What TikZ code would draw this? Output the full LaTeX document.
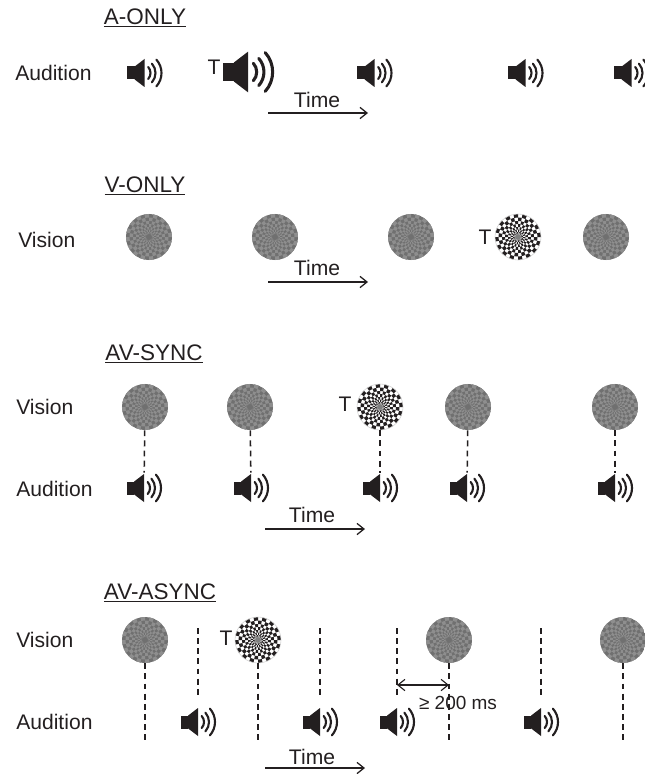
\documentclass[tikz,border=0pt]{standalone}
\usepackage{fontspec}
\setmainfont{Liberation Sans}
\usepackage{tikz}
\usetikzlibrary{arrows.meta}
\definecolor{ink}{RGB}{35,31,32}
\definecolor{dscA}{RGB}{112,112,112}
\definecolor{dscB}{RGB}{142,142,142}

% radial checkerboard inside a disc node: #1 base, #2 cells
\newcommand\radcheck[2]{%
  \begin{scope}[shift={(path picture bounding box.center)}]
    \fill[#1] (0,0) circle[radius=25];
    \foreach \ri/\ro [count=\k] in {3/5,5/7.5,7.5/10,10/13,13/16,16/19.5,19.5/23.5}{
      \pgfmathsetmacro\off{mod(\k,2)*11.25}
      \foreach \a in {0,22.5,...,337.5}
        \fill[#2] (\a+\off:\ri) arc[start angle=\a+\off,delta angle=11.25,radius=\ri]
          -- (\a+\off+11.25:\ro) arc[start angle=\a+\off+11.25,delta angle=-11.25,radius=\ro] -- cycle;
    }
  \end{scope}}
% loudspeaker icon, #1 = size
\newcommand\spkicon[1]{%
  \begin{scope}[shift={(path picture bounding box.center)}]
    \fill[ink] ({-17.5*#1},{-6.5*#1}) rectangle ({-9.8*#1},{6.5*#1});
    \fill[ink] ({-9.8*#1},{-6.5*#1}) -- (0,{-14*#1}) -- (0,{14*#1}) -- ({-9.8*#1},{6.5*#1}) -- cycle;
    \foreach \r in {9,14,20}
      \draw[ink,line width=#1*1.5pt,line cap=round] ({-3*#1},0) ++(-42:{\r*#1}) arc[start angle=-42,end angle=42,radius={\r*#1}];
  \end{scope}}

\tikzset{
  lab/.style={anchor=west,inner sep=0pt},
  title/.style={font=\fontsize{16}{19}\selectfont},
  disc/.style={circle,inner sep=0pt,minimum size=1.15cm,path picture={\radcheck{dscA}{dscB}}},
  target/.style={circle,inner sep=0pt,minimum size=1.15cm,draw=gray!35,line width=0.4pt,
    path picture={\radcheck{white}{ink}\fill[gray] (path picture bounding box.center) circle[radius=3];}},
  speaker/.style={inner sep=0pt,minimum width=#1*1cm,minimum height=#1*0.75cm,path picture={\spkicon{#1}}},
  speaker/.default=1,
  link/.style={ink,line width=1.1pt,dash pattern=on 4.2pt off 3pt},
  timeaxis/.style={ink,line width=0.9pt,->},
}

\begin{document}
\begin{tikzpicture}[x=0.025cm,y=-0.025cm,font=\fontsize{15}{18}\selectfont,text=ink,
  >={Straight Barb[length=5pt,width=8pt]}]
\useasboundingbox (0,0) rectangle (644,774);
% A-ONLY
\node[title] (tA) at (145,18) {\underline{A-ONLY}};
\node[lab] (audA) at (15,73) {Audition};
\node[speaker] (a11) at (144.5,73) {}; \node (tgA) at (214,67) {T};
\node[speaker=1.45] (a12) at (248,72) {};
\node[speaker] (a13) at (374.5,73) {}; \node[speaker] (a14) at (525.5,73) {};
\node[speaker] (a15) at (631.5,73) {};
\node (time1) at (317,100) {Time};
\coordinate (s1) at (268,113); \coordinate (e1) at (368,113); \draw[timeaxis] (s1) -- (e1);
% V-ONLY
\node[title] (tV) at (145,186) {\underline{V-ONLY}};
\node[lab] (visV) at (18,240) {Vision};
\node[disc] (v21) at (149,237) {}; \node[disc] (v22) at (275,237) {};
\node[disc] (v23) at (411,237) {};
\node (tgV) at (485,237) {T}; \node[target] (v24) at (518,237) {};
\node[disc] (v25) at (606,237) {};
\node (time2) at (317,268) {Time};
\coordinate (s2) at (268,282); \coordinate (e2) at (368,282); \draw[timeaxis] (s2) -- (e2);
% AV-SYNC
\node[title] (tS) at (154,354) {\underline{AV-SYNC}};
\node[lab] (visS) at (16,407) {Vision}; \node[lab] (audS) at (16,489) {Audition};
\node[disc] (v31) at (145,407) {}; \node[disc] (v32) at (250,407) {};
\node (tgS) at (345,404) {T}; \node[target] (v33) at (380,407) {};
\node[disc] (v34) at (468,407) {}; \node[disc] (v35) at (615,407) {};
\node[speaker] (a31) at (144,488) {}; \node[speaker] (a32) at (251,488) {};
\node[speaker] (a33) at (380,488) {}; \node[speaker] (a34) at (467,488) {};
\node[speaker] (a35) at (615,488) {};
\draw[link] (v31) -- (a31); \draw[link] (v32) -- (a32); \draw[link] (v33) -- (a33);
\draw[link] (v34) -- (a34); \draw[link] (v35) -- (a35);
\node (time3) at (312,515) {Time};
\coordinate (s3) at (265,529); \coordinate (e3) at (365,529); \draw[timeaxis] (s3) -- (e3);
% AV-ASYNC
\node[title] (tN) at (160,593) {\underline{AV-ASYNC}};
\node[lab] (visN) at (16,640) {Vision}; \node[lab] (audN) at (16,722) {Audition};
\node[disc] (v41) at (145,640) {};
\node (tgN) at (226,638) {T}; \node[target] (v42) at (258,640) {};
\node[disc] (v43) at (449,640) {}; \node[disc] (v44) at (623,640) {};
\node[speaker] (a41) at (198,722) {}; \node[speaker] (a42) at (320,722) {};
\node[speaker] (a43) at (397,722) {}; \node[speaker] (a44) at (541,722) {};
% sound onsets, no flash
\coordinate (u1) at (198,628); \coordinate (u2) at (320,628);
\coordinate (u3) at (397,628); \coordinate (u4) at (541,628);
\draw[link,shorten >=6pt] (u1) -- (a41.north); \draw[link,shorten >=6pt] (u2) -- (a42.north);
\draw[link,shorten >=6pt] (u3) -- (a43.north); \draw[link,shorten >=6pt] (u4) -- (a44.north);
% flash onsets, no sound
\coordinate (d1) at (145,740); \coordinate (d2) at (258,740);
\coordinate (d3) at (449,740); \coordinate (d4) at (623,740);
\draw[link] (v41) -- (d1); \draw[link] (v42) -- (d2); \draw[link] (v43) -- (d3); \draw[link] (v44) -- (d4);
% minimum lag
\coordinate (g1) at (397,685); \coordinate (g2) at (449,685);
\draw[ink,line width=0.8pt,<->] (g1) -- (g2);
\node[font=\fontsize{13.5}{16}\selectfont] (lag) at (458,703) {≥ 200 ms};
\node (time4) at (312,757) {Time};
\coordinate (s4) at (265,768); \coordinate (e4) at (365,768); \draw[timeaxis] (s4) -- (e4);
\end{tikzpicture}
\end{document}
